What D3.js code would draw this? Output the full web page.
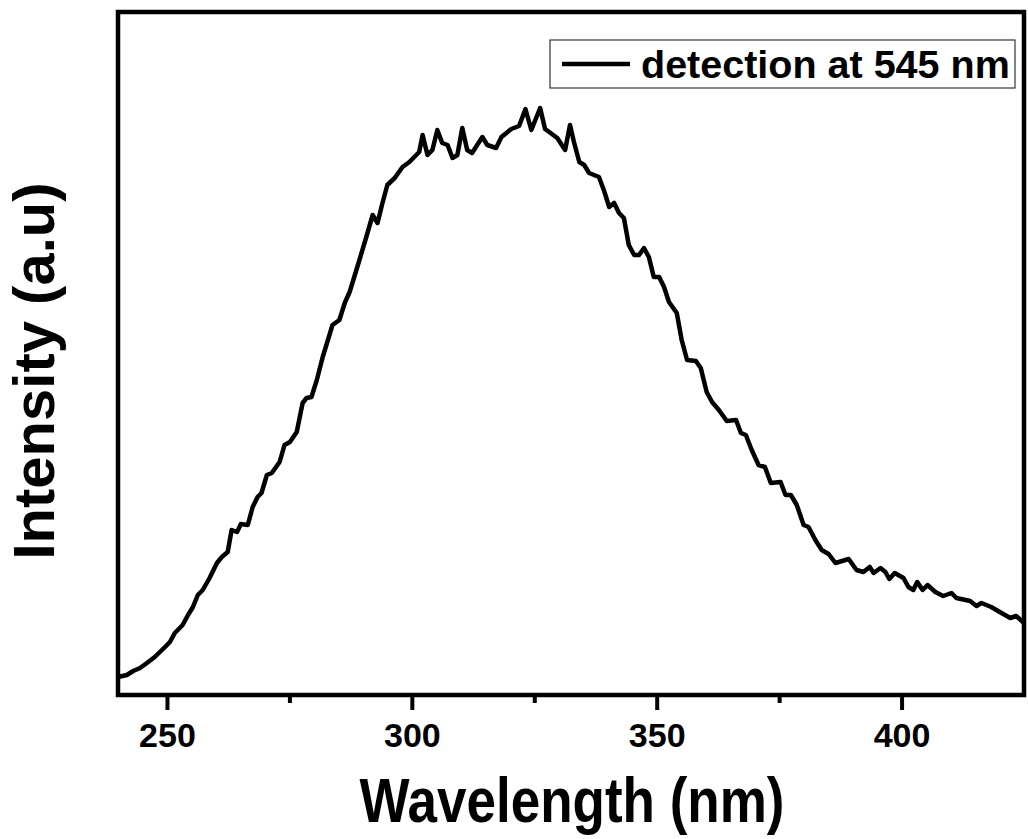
<!DOCTYPE html>
<html>
<head>
<meta charset="utf-8">
<script src="https://cdn.jsdelivr.net/npm/d3@7"></script>
<style>
  body { margin: 0; background: #fff; }
  text { font-family: "Liberation Sans", Arial, sans-serif; font-weight: bold; fill: #000; }
</style>
</head>
<body>
<svg id="chart" width="1028" height="839"></svg>
<script>
// excitation spectrum (wavelength in nm, intensity in a.u.)
var wavelength = [240.0, 241.8, 243.1, 244.5, 245.9, 247.5, 249.6, 250.6, 251.6, 253.2,
    254.3, 255.3, 256.3, 257.3, 258.7, 260.2, 261.2, 262.4, 263.2, 264.3,
    265.1, 266.5, 267.5, 268.5, 269.3, 270.4, 271.4, 273.0, 274.0, 275.1,
    276.5, 277.7, 278.5, 279.5, 280.6, 281.8, 283.8, 285.2, 286.3, 287.3,
    289.3, 290.7, 292.0, 293.0, 294.0, 295.0, 296.5, 298.1, 299.5, 300.9,
    301.5, 302.2, 303.2, 304.2, 305.2, 306.2, 307.3, 308.3, 309.3, 310.3,
    311.3, 312.3, 314.4, 315.4, 317.2, 318.3, 320.3, 321.9, 323.2, 324.4,
    326.2, 327.2, 329.7, 331.3, 332.3, 333.1, 334.2, 335.2, 336.2, 337.2,
    338.2, 339.2, 340.3, 341.3, 342.3, 343.3, 344.3, 345.4, 346.4, 347.4,
    348.4, 349.4, 350.5, 351.5, 352.5, 354.1, 355.1, 356.2, 358.0, 359.0,
    360.2, 361.3, 362.7, 364.3, 366.2, 367.2, 368.2, 369.4, 370.8, 372.1,
    373.3, 375.3, 376.3, 377.4, 378.6, 380.0, 381.0, 382.4, 383.7, 385.1,
    386.5, 389.2, 390.8, 392.2, 393.5, 394.3, 395.7, 396.7, 397.5, 398.6,
    400.4, 401.4, 402.4, 403.2, 404.3, 405.3, 406.9, 408.5, 410.2, 411.2,
    414.0, 415.3, 416.3, 418.3, 420.4, 422.2, 423.4, 425.0];

var intensity = [18, 20, 24, 27, 32, 38, 48, 53, 62, 70,
    80, 88, 100, 105, 117, 132, 138, 143, 165, 163,
    171, 170, 188, 198, 202, 220, 222, 233, 250, 253,
    263, 292, 297, 298, 315, 338, 370, 375, 392, 403,
    435, 458, 480, 472, 492, 510, 517, 528, 533, 540,
    543, 560, 540, 545, 565, 552, 550, 537, 540, 567,
    545, 542, 558, 550, 547, 558, 566, 569, 586, 565,
    587, 566, 557, 545, 570, 553, 533, 530, 522, 520,
    518, 505, 488, 492, 482, 477, 450, 440, 440, 447,
    438, 418, 418, 408, 393, 382, 355, 335, 334, 327,
    303, 293, 285, 274, 275, 262, 260, 245, 230, 228,
    212, 213, 200, 200, 190, 170, 168, 155, 145, 141,
    132, 136, 125, 123, 128, 122, 127, 123, 116, 122,
    117, 108, 105, 113, 105, 110, 103, 99, 102, 97,
    94, 89, 92, 88, 82, 77, 79, 72];

var majorTicks = [250, 300, 350, 400];
var minorTicks = [275, 325, 375];
var legendLabel = "detection at 545 nm";

var data = wavelength.map(function (w, i) { return { x: w, y: intensity[i] }; });

var svg = d3.select("#chart"),
    margin = { top: 12, right: 4, bottom: 144, left: 118 },
    width = +svg.attr("width") - margin.left - margin.right,
    height = +svg.attr("height") - margin.top - margin.bottom,
    g = svg.append("g").attr("transform", "translate(" + margin.left + "," + margin.top + ")");

var x = d3.scaleLinear().domain([240, 425]).range([0, width]);
var y = d3.scaleLinear().domain([0, 683]).range([height, 0]);

// minor ticks first, then the labelled ones
g.append("g")
    .attr("transform", "translate(0," + height + ")")
    .call(d3.axisBottom(x).tickValues(minorTicks).tickSize(8).tickFormat(""))
    .call(function (a) {
        a.select(".domain").remove();
        a.selectAll("line").attr("stroke-width", 4);
    });

g.append("g")
    .attr("class", "axis axis--x")
    .attr("transform", "translate(0," + height + ")")
    .call(d3.axisBottom(x).tickValues(majorTicks).tickSize(15).tickPadding(12))
    .call(function (a) {
        a.select(".domain").remove();
        a.selectAll("line").attr("stroke-width", 4);
        a.selectAll("text").attr("font-size", 34).attr("font-family", null).attr("dy", null)
            .attr("dominant-baseline", "hanging");
    });

var line = d3.line()
    .x(function (d) { return x(d.x); })
    .y(function (d) { return y(d.y); });

g.append("path")
    .datum(data)
    .attr("fill", "none")
    .attr("stroke", "#000")
    .attr("stroke-width", 4.5)
    .attr("stroke-linejoin", "round")
    .attr("d", line);

// frame
g.append("rect")
    .attr("width", width)
    .attr("height", height)
    .attr("fill", "none")
    .attr("stroke", "#000")
    .attr("stroke-width", 4.5);

// legend
var leg = g.append("g").attr("transform", "translate(432,28)");
leg.append("rect")
    .attr("width", 465)
    .attr("height", 48)
    .attr("fill", "#fff")
    .attr("stroke", "#333")
    .attr("stroke-width", 1.2);
leg.append("line")
    .attr("x1", 12).attr("x2", 80)
    .attr("y1", 24).attr("y2", 24)
    .attr("stroke", "#000")
    .attr("stroke-width", 4.5);
leg.append("text")
    .attr("x", 91)
    .attr("y", 38)
    .attr("font-size", 39.5)
    .text(legendLabel);

// axis titles
svg.append("text")
    .attr("transform", "translate(572,822) scale(1,1.2)")
    .attr("text-anchor", "middle")
    .attr("font-size", 53)
    .text("Wavelength (nm)");

svg.append("text")
    .attr("transform", "translate(54,371) rotate(-90)")
    .attr("text-anchor", "middle")
    .attr("font-size", 58)
    .text("Intensity (a.u)");
</script>
</body>
</html>
